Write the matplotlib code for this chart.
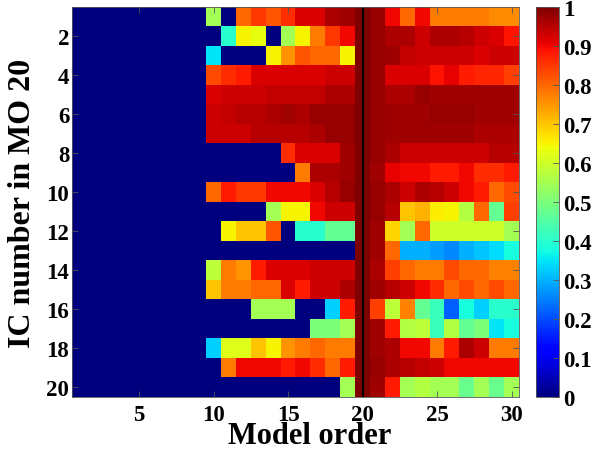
import numpy as np
import matplotlib
matplotlib.use("Agg")
import matplotlib.pyplot as plt

plt.rcParams['font.family'] = ['Liberation Serif', 'DejaVu Serif']
plt.rcParams['font.weight'] = 'bold'

model_orders = list(range(1, 31))
ic_numbers = list(range(1, 21))
lead_zeros = [0.0] * 9  # model orders 1-9

# values for model orders 10..30, per IC (rows 1..20)
r01 = [0.55, 0, 0.80, 0.85, 0.82, 0.86, 0.92, 0.92, 0.96, 0.97, 1, 0.98, 0.90, 0.80, 0.90, 0.78, 0.78, 0.78, 0.78, 0.76, 0.76]
r02 = [0, 0.40, 0.65, 0.63, 0, 0.55, 0.65, 0.78, 0.85, 0.90, 1, 0.98, 0.96, 0.96, 0.93, 0.96, 0.96, 0.95, 0.93, 0.92, 0.89]
r03 = [0.35, 0, 0, 0, 0.65, 0.75, 0.82, 0.80, 0.80, 0.65, 1, 0.98, 0.97, 0.94, 0.93, 0.93, 0.93, 0.93, 0.92, 0.93, 0.93]
r04 = [0.83, 0.86, 0.88, 0.92, 0.92, 0.92, 0.92, 0.92, 0.93, 0.93, 1, 0.98, 0.92, 0.92, 0.92, 0.89, 0.91, 0.88, 0.87, 0.87, 0.84]
r05 = [0.92, 0.93, 0.93, 0.93, 0.94, 0.94, 0.94, 0.94, 0.96, 0.96, 1, 0.98, 0.96, 0.96, 0.98, 0.97, 0.97, 0.97, 0.97, 0.97, 0.97]
r06 = [0.93, 0.94, 0.95, 0.95, 0.96, 0.97, 0.96, 0.98, 0.98, 0.98, 1, 0.98, 0.97, 0.97, 0.97, 0.98, 0.98, 0.98, 0.97, 0.97, 0.97]
r07 = [0.93, 0.93, 0.93, 0.95, 0.95, 0.95, 0.95, 0.96, 0.98, 0.98, 1, 0.98, 0.97, 0.97, 0.97, 0.97, 0.97, 0.97, 0.96, 0.96, 0.96]
r08 = [0, 0, 0, 0, 0, 0.86, 0.92, 0.92, 0.92, 0.97, 1, 0.98, 0.96, 0.93, 0.93, 0.93, 0.93, 0.93, 0.93, 0.95, 0.95]
r09 = [0, 0, 0, 0, 0, 0, 0.78, 0.96, 0.96, 0.97, 1, 0.97, 0.91, 0.90, 0.90, 0.88, 0.88, 0.90, 0.86, 0.86, 0.88]
r10 = [0.80, 0.88, 0.85, 0.85, 0.90, 0.90, 0.90, 0.92, 0.95, 0.98, 1, 0.98, 0.96, 0.93, 0.96, 0.95, 0.93, 0.90, 0.88, 0.80, 0.83]
r11 = [0, 0, 0, 0, 0.55, 0.65, 0.65, 0.90, 0.93, 0.93, 1, 0.98, 0.95, 0.70, 0.72, 0.66, 0.65, 0.57, 0.80, 0.47, 0.84]
r12 = [0, 0.65, 0.70, 0.70, 0.82, 0, 0.40, 0.40, 0.47, 0.47, 1, 0.97, 0.68, 0.55, 0.80, 0.60, 0.60, 0.60, 0.60, 0.60, 0.55]
r13 = [0, 0, 0, 0, 0, 0, 0, 0, 0, 0, 1, 0.97, 0.80, 0.30, 0.30, 0.28, 0.26, 0.30, 0.32, 0.34, 0.38]
r14 = [0.58, 0.78, 0.75, 0.88, 0.92, 0.92, 0.92, 0.93, 0.93, 0.93, 1, 0.96, 0.84, 0.80, 0.78, 0.78, 0.83, 0.80, 0.80, 0.77, 0.77]
r15 = [0.70, 0.78, 0.78, 0.80, 0.80, 0.92, 0.88, 0.93, 0.93, 0.96, 1, 0.97, 0.95, 0.93, 0.90, 0.86, 0.80, 0.83, 0.80, 0.83, 0.80]
r16 = [0, 0, 0, 0.55, 0.55, 0.55, 0, 0, 0.33, 0.88, 1, 0.84, 0.58, 0.77, 0.47, 0.42, 0.22, 0.38, 0.33, 0.40, 0.40]
r17 = [0, 0, 0, 0, 0, 0, 0, 0.50, 0.50, 0.55, 1, 0.97, 0.88, 0.57, 0.58, 0.42, 0.57, 0.47, 0.50, 0.35, 0.38]
r18 = [0.33, 0.62, 0.62, 0.70, 0.65, 0.75, 0.78, 0.80, 0.78, 0.78, 1, 0.97, 0.96, 0.90, 0.90, 0.78, 0.88, 0.96, 0.93, 0.78, 0.78]
r19 = [0, 0.78, 0.90, 0.90, 0.90, 0.88, 0.90, 0.86, 0.80, 0.88, 1, 0.98, 0.96, 0.95, 0.94, 0.93, 0.90, 0.90, 0.90, 0.90, 0.90]
r20 = [0, 0, 0, 0, 0, 0, 0, 0, 0, 0.55, 1, 0.97, 0.88, 0.55, 0.57, 0.55, 0.55, 0.48, 0.55, 0.48, 0.55]

rows = [r01, r02, r03, r04, r05, r06, r07, r08, r09, r10,
        r11, r12, r13, r14, r15, r16, r17, r18, r19, r20]
data = np.array([lead_zeros + r for r in rows])

reference_order = 20
xticks = [5, 10, 15, 20, 25, 30]
yticks = [2, 4, 6, 8, 10, 12, 14, 16, 18, 20]
cbar_ticks = [0, 0.1, 0.2, 0.3, 0.4, 0.5, 0.6, 0.7, 0.8, 0.9, 1]
cbar_labels = ['0', '0.1', '0.2', '0.3', '0.4', '0.5', '0.6', '0.7', '0.8', '0.9', '1']

fig = plt.figure(figsize=(5.95, 4.56), dpi=100)
ax = fig.add_axes([72/595, 1 - 398/456, (519-72)/595, (398-8)/456])
im = ax.imshow(data, cmap='jet', vmin=0, vmax=1, aspect='auto',
               interpolation='nearest',
               extent=[model_orders[0]-0.5, model_orders[-1]+0.5,
                       ic_numbers[-1]+0.5, ic_numbers[0]-0.5])
ax.axvline(reference_order, color='black', linewidth=1.5)

ax.set_xticks(xticks)
ax.set_yticks(yticks)
ax.tick_params(direction='in', length=4, width=0.6, top=True, right=True,
               labelsize=16.5, color='#555555')
ax.tick_params(axis='x', pad=5)
ax.tick_params(axis='y', pad=2)
for lbl in ax.get_xticklabels() + ax.get_yticklabels():
    lbl.set_fontweight('bold')
xl = ax.set_xlabel('Model order', fontsize=22, fontweight='bold')
xl.set_verticalalignment('baseline')
ax.xaxis.set_label_coords(0.532, -0.118)
ax.set_ylabel('IC number in MO 20', fontsize=23, fontweight='bold', labelpad=7)
for s in ax.spines.values():
    s.set_linewidth(0.6)
    s.set_color('#555555')

cax = fig.add_axes([536/595, 1 - 398/456, (559-536)/595, (398-8)/456])
cb = fig.colorbar(im, cax=cax, ticks=cbar_ticks)
cb.ax.set_yticklabels(cbar_labels)
cb.ax.tick_params(direction='in', length=4, width=0.6, labelsize=16.5, pad=3, color='#555555')
for lbl in cb.ax.get_yticklabels():
    lbl.set_fontweight('bold')
cb.outline.set_linewidth(0.6)
cb.outline.set_edgecolor('#555555')

fig.savefig('out.png', dpi=100)
